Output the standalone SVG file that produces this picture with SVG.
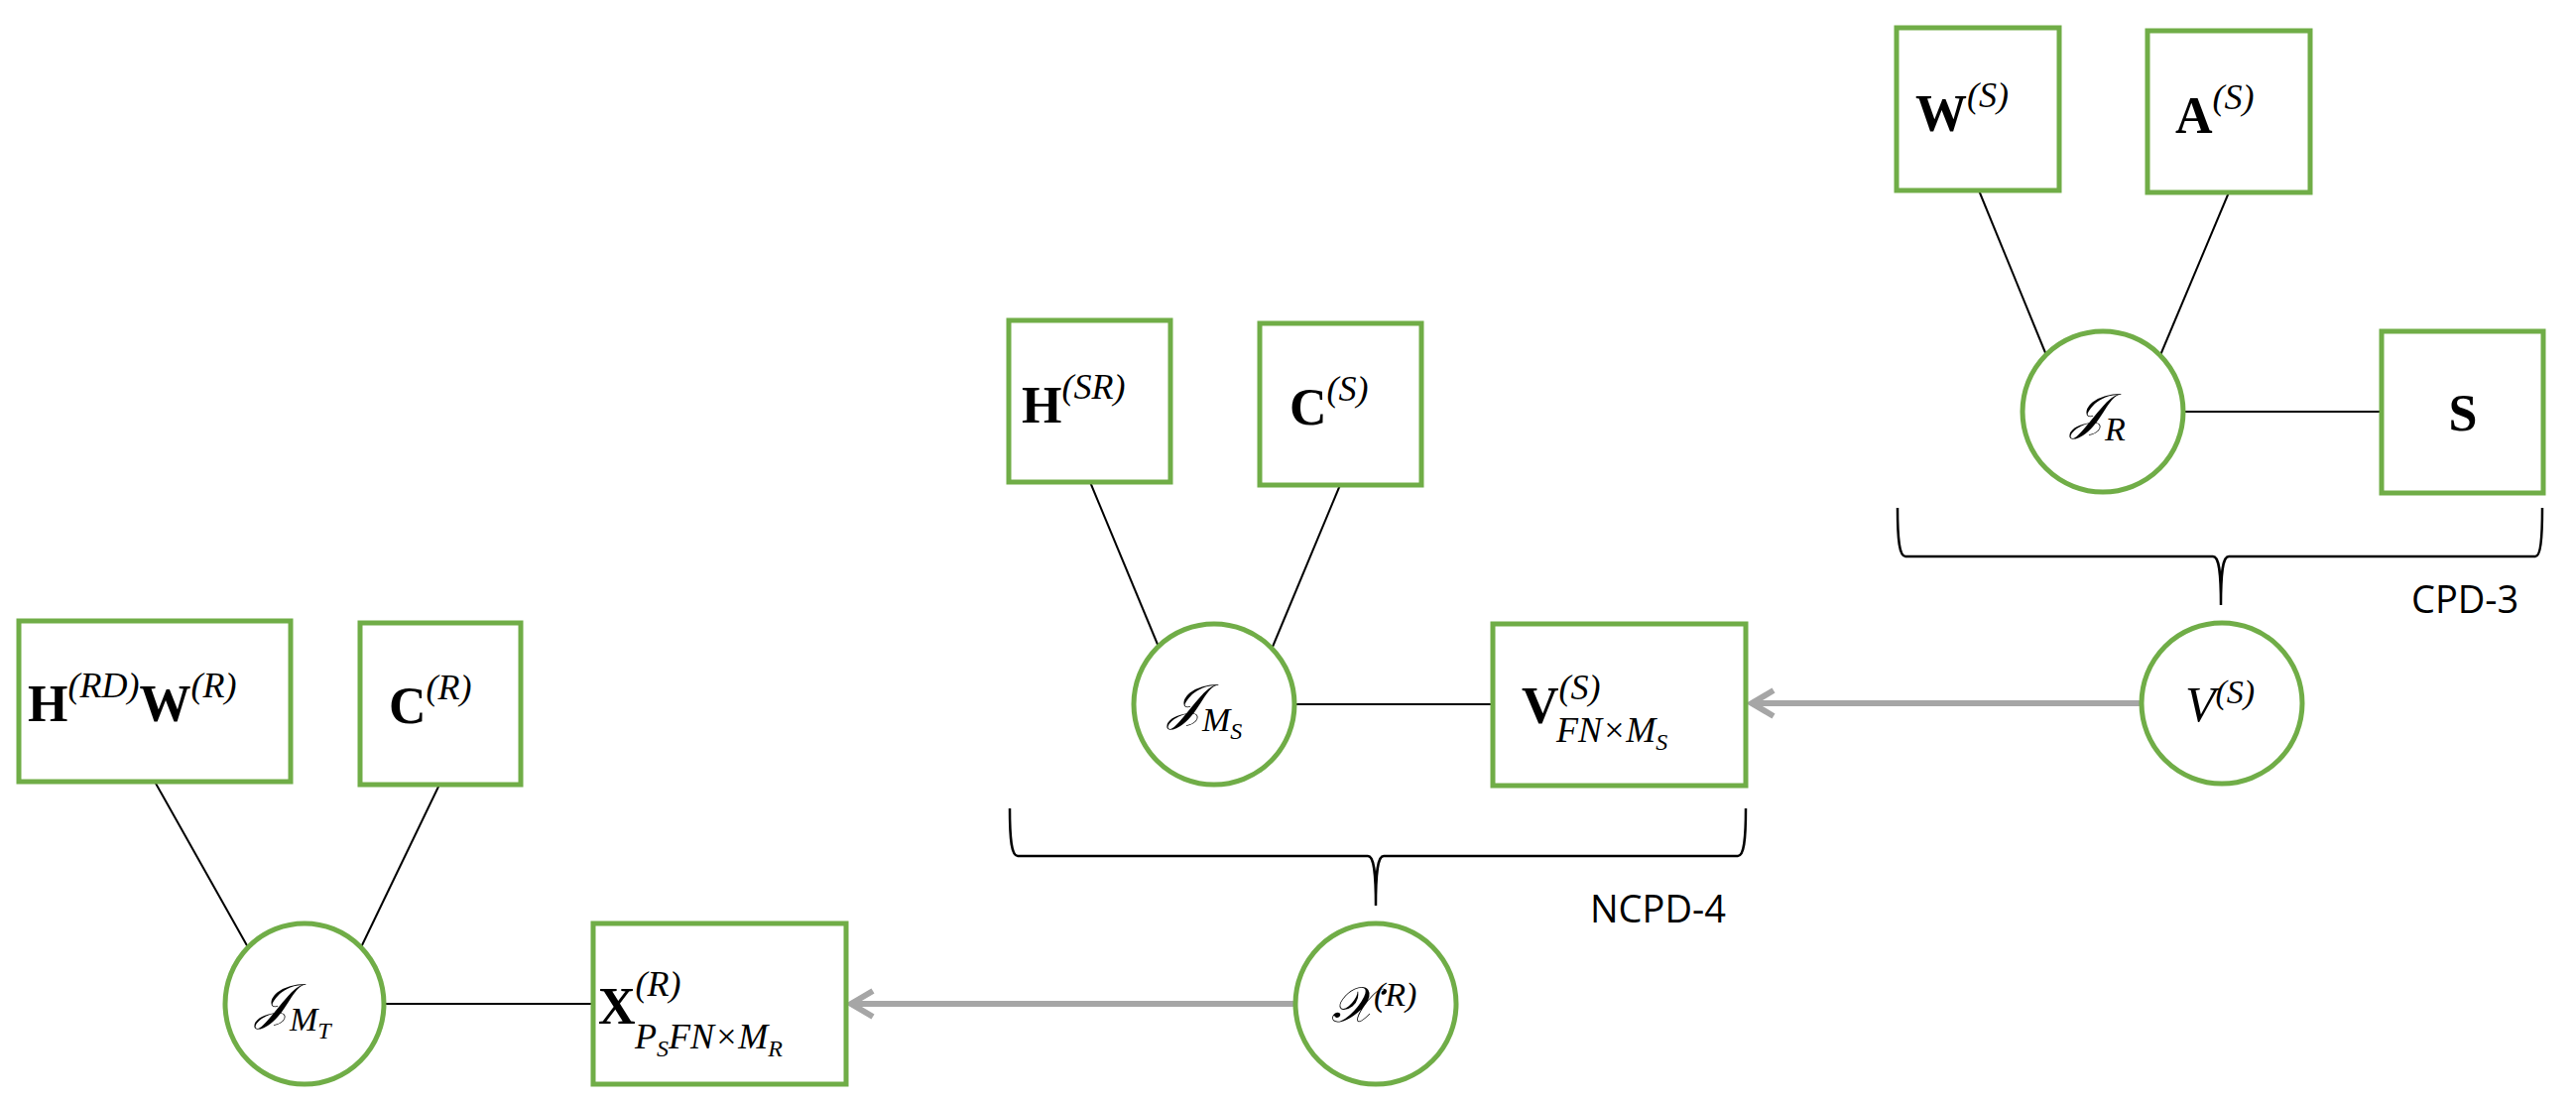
<svg xmlns="http://www.w3.org/2000/svg" width="2597" height="1113" viewBox="0 0 2597 1113">
<style>
.n{fill:#fff;stroke:#70ad47;stroke-width:5}
.e{stroke:#000;stroke-width:2;fill:none}
.b{stroke:#000;stroke-width:2.5;fill:none}
.a{stroke:#a6a6a6;stroke-width:6;fill:none}
text{font-family:"Liberation Serif","DejaVu Serif",serif;fill:#000}
.bf{font-weight:bold;font-size:52px}
.it{font-style:italic}
.sup{font-size:36px;font-style:italic}
.lbl{font-family:"Open Sans","Noto Sans",sans-serif;font-size:38px}
</style>
<defs>
<marker id="ah" markerWidth="10" markerHeight="10" refX="1" refY="5" orient="auto" markerUnits="userSpaceOnUse" viewBox="0 0 10 10">
</marker>
</defs>
<g id="connectors">
<line class="e" x1="156" y1="788" x2="250" y2="955"/>
<line class="e" x1="443" y1="791" x2="364" y2="955"/>
<line class="e" x1="388" y1="1012" x2="598" y2="1012"/>
<line class="e" x1="1099" y1="486" x2="1168" y2="652"/>
<line class="e" x1="1351" y1="489" x2="1283" y2="652"/>
<line class="e" x1="1305" y1="710" x2="1505" y2="710"/>
<line class="e" x1="1995" y1="192" x2="2063" y2="358"/>
<line class="e" x1="2247" y1="194" x2="2178" y2="358"/>
<line class="e" x1="2201" y1="415" x2="2401" y2="415"/>
<path class="a" d="M2158 709 H1766 M1788 696 L1766 709 L1788 722"/>
<path class="a" d="M1306 1012 H858 M880 999 L858 1012 L880 1025"/>
<path class="b" d="M1913 512 C1913 545 1915 561 1921 561 L2231 561 C2237 561 2239 575 2239 610 C2239 575 2241 561 2247 561 L2556 561 C2561 561 2563 545 2563 512"/>
<path class="b" d="M1018 815 C1018 848 1020 863 1026 863 L1379 863 C1385 863 1387 878 1387 913 C1387 878 1389 863 1395 863 L1752 863 C1758 863 1760 848 1760 815"/>
</g>
<g id="n-HW"><rect class="n" x="19" y="626" width="274" height="162"/>
<text x="28" y="727"><tspan class="bf">H</tspan><tspan class="sup" dy="-24">(RD)</tspan><tspan class="bf" dy="24">W</tspan><tspan class="sup" dy="-24">(R)</tspan></text></g>
<g id="n-CR"><rect class="n" x="363" y="628" width="162" height="163"/>
<text x="392" y="729"><tspan class="bf">C</tspan><tspan class="sup" dy="-24">(R)</tspan></text></g>
<g id="n-JMT"><ellipse class="n" cx="307" cy="1012" rx="80" ry="81"/>
<text x="258" y="1027"><tspan class="it" font-size="50">𝒥</tspan><tspan class="it" font-size="34" dy="12">M</tspan><tspan class="it" font-size="24" dy="8">T</tspan></text></g>
<g id="n-X"><rect class="n" x="598" y="931" width="255" height="162"/>
<text x="603" y="1032"><tspan class="bf">X</tspan><tspan class="sup" dy="-28">(R)</tspan></text>
<text x="640" y="1057" class="it" font-size="36">P<tspan font-size="24" dy="8">S</tspan><tspan dy="-8">FN×M</tspan><tspan font-size="24" dy="8">R</tspan></text></g>
<g id="n-HSR"><rect class="n" x="1017" y="323" width="163" height="163"/>
<text x="1030" y="426"><tspan class="bf">H</tspan><tspan class="sup" dy="-24">(SR)</tspan></text></g>
<g id="n-CS"><rect class="n" x="1270" y="326" width="163" height="163"/>
<text x="1300" y="428"><tspan class="bf">C</tspan><tspan class="sup" dy="-24">(S)</tspan></text></g>
<g id="n-JMS"><ellipse class="n" cx="1224" cy="710" rx="81" ry="81"/>
<text x="1178" y="725"><tspan class="it" font-size="50">𝒥</tspan><tspan class="it" font-size="34" dy="12">M</tspan><tspan class="it" font-size="24" dy="8">S</tspan></text></g>
<g id="n-V"><rect class="n" x="1505" y="629" width="255" height="163"/>
<text x="1534" y="729"><tspan class="bf">V</tspan><tspan class="sup" dy="-24">(S)</tspan></text>
<text x="1569" y="748" class="it" font-size="36">FN×M<tspan font-size="24" dy="8">S</tspan></text></g>
<g id="n-VS"><ellipse class="n" cx="2240" cy="709" rx="81" ry="81"/>
<text x="2203" y="727"><tspan class="it" font-size="50">V</tspan><tspan font-size="34" class="it" dy="-18">(S)</tspan></text></g>
<g id="n-chi"><ellipse class="n" cx="1387" cy="1012" rx="81" ry="81"/>
<text x="1342" y="1030"><tspan class="it" font-size="50">𝒳</tspan><tspan font-size="34" class="it" dy="-16">(R)</tspan></text></g>
<g id="n-WS"><rect class="n" x="1912" y="28" width="164" height="164"/>
<text x="1931" y="132"><tspan class="bf">W</tspan><tspan class="sup" dy="-24">(S)</tspan></text></g>
<g id="n-AS"><rect class="n" x="2165" y="31" width="164" height="163"/>
<text x="2193" y="134"><tspan class="bf">A</tspan><tspan class="sup" dy="-24">(S)</tspan></text></g>
<g id="n-JR"><ellipse class="n" cx="2120" cy="415" rx="81" ry="81"/>
<text x="2088" y="432"><tspan class="it" font-size="50">𝒥</tspan><tspan class="it" font-size="34" dy="12">R</tspan></text></g>
<g id="n-S"><rect class="n" x="2401" y="334" width="163" height="163"/>
<text x="2483" y="434" class="bf" text-anchor="middle">S</text></g>
<text class="lbl" x="2431" y="618">CPD-3</text>
<text class="lbl" x="1603" y="930">NCPD-4</text>
</svg>
